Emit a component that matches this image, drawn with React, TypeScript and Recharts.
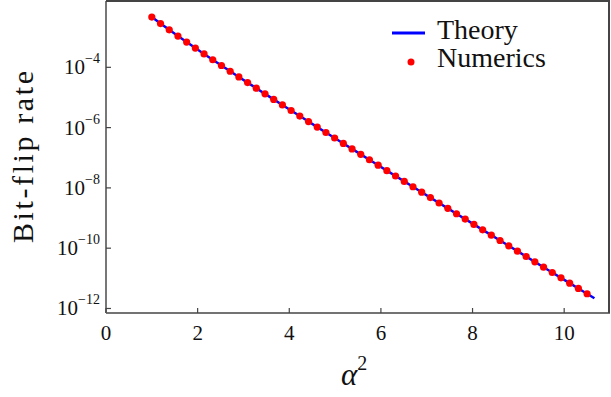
import { ComposedChart, Line, Scatter, XAxis, YAxis } from 'recharts';

// alpha^2 sample points of the numerics
const alpha2 = [
  1.0, 1.19, 1.38, 1.57, 1.76, 1.95, 2.14, 2.33, 2.52, 2.71,
  2.9, 3.09, 3.28, 3.47, 3.66, 3.85, 4.04, 4.23, 4.42, 4.61,
  4.8, 4.99, 5.18, 5.37, 5.56, 5.75, 5.94, 6.13, 6.32, 6.51,
  6.7, 6.89, 7.08, 7.27, 7.46, 7.65, 7.84, 8.03, 8.22, 8.41,
  8.6, 8.79, 8.98, 9.17, 9.36, 9.55, 9.74, 9.93, 10.12, 10.31, 10.5,
];

const numericRate = [
  4.63e-3, 2.82e-3, 1.75e-3, 1.09e-3, 6.87e-4, 4.36e-4, 2.78e-4, 1.78e-4, 1.15e-4, 7.41e-5,
  4.8e-5, 3.11e-5, 2.03e-5, 1.32e-5, 8.63e-6, 5.64e-6, 3.69e-6, 2.42e-6, 1.59e-6, 1.04e-6,
  6.87e-7, 4.52e-7, 2.98e-7, 1.97e-7, 1.3e-7, 8.57e-8, 5.66e-8, 3.74e-8, 2.48e-8, 1.64e-8,
  1.09e-8, 7.19e-9, 4.77e-9, 3.16e-9, 2.1e-9, 1.39e-9, 9.24e-10, 6.14e-10, 4.07e-10, 2.71e-10,
  1.8e-10, 1.2e-10, 7.96e-11, 5.3e-11, 3.52e-11, 2.34e-11, 1.56e-11, 1.04e-11, 6.92e-12, 4.61e-12, 3.08e-12,
];

// theory curve runs a little past the last numeric point
const theoryAlpha2 = [...alpha2, 10.66];
const theoryRate = [...numericRate, 2.18e-12];

const xTicks = [0, 2, 4, 6, 8, 10];
const xDomain = [0, 11];
const yTicks = [1e-12, 1e-10, 1e-8, 1e-6, 1e-4];
const yDomain = [7.08e-13, 1.585e-2];

const numericData = alpha2.map((a, i) => ({ a2: a, rate: numericRate[i] }));
const theoryData = theoryAlpha2.map((a, i) => ({ a2: a, rate: theoryRate[i] }));

const FONT = '"Liberation Serif", "DejaVu Serif", serif';
const AXIS = '#444';

function XTick(props: any) {
  const { x, y, payload } = props;
  return (
    <g>
      <line x1={x} x2={x} y1={y} y2={y - 5} stroke={AXIS} strokeWidth={1.2} />
      <text x={x} y={y + 27} textAnchor="middle" fontSize={21} fill="#111" style={{ fontFamily: FONT }}>
        {payload.value}
      </text>
    </g>
  );
}

function YTick(props: any) {
  const { x, y, payload } = props;
  const exp = Math.round(Math.log10(payload.value));
  return (
    <g>
      <line x1={x} x2={x + 5} y1={y} y2={y} stroke={AXIS} strokeWidth={1.2} />
      <text x={x - 6} y={y + 7} textAnchor="end" fill="#111" style={{ fontFamily: FONT }}>
        <tspan fontSize={21}>10</tspan>
        <tspan fontSize={14} dy={-11}>{'\u2212' + Math.abs(exp)}</tspan>
      </text>
    </g>
  );
}

function LegendBox() {
  return (
    <svg width={230} height={70} style={{ position: 'absolute', top: 10, left: 380 }}>
      <line x1={12} x2={45} y1={23} y2={23} stroke="#0000ff" strokeWidth={3} />
      <text x={57} y={29} fontSize={28} fill="#111" style={{ fontFamily: FONT }}>Theory</text>
      <circle cx={31} cy={52} r={3.5} fill="#ff0000" />
      <text x={57} y={57} fontSize={28} fill="#111" style={{ fontFamily: FONT }}>Numerics</text>
    </svg>
  );
}

export default function App() {
  return (
    <div
      style={{
        position: 'fixed',
        left: 0,
        top: 0,
        width: 611,
        height: 397,
        overflow: 'hidden',
        background: '#fff',
      }}
    >
      <ComposedChart width={611} height={397} margin={{ top: 1, right: 1, left: 0, bottom: 0 }}>
        <XAxis
          dataKey="a2"
          type="number"
          domain={xDomain}
          ticks={xTicks}
          axisLine={{ stroke: AXIS, strokeWidth: 1.5 }}
          tickLine={false}
          tickSize={0}
          tickMargin={0}
          tick={<XTick />}
          height={84}
          allowDataOverflow
          label={{
            content: () => (
              <text x={341} y={385} fill="#111" style={{ fontFamily: FONT }}>
                <tspan fontSize={31} fontStyle="italic">α</tspan>
                <tspan fontSize={20} dy={-15}>2</tspan>
              </text>
            ),
          }}
        />
        <YAxis
          type="number"
          scale="log"
          domain={yDomain}
          ticks={yTicks}
          axisLine={{ stroke: '#777', strokeWidth: 2 }}
          tickLine={false}
          tickSize={0}
          tickMargin={0}
          tick={<YTick />}
          width={106}
          allowDataOverflow
          label={{
            content: () => (
              <text
                x={33}
                y={157}
                transform="rotate(-90 33 157)"
                textAnchor="middle"
                fontSize={30}
                textLength={172}
                lengthAdjust="spacing"
                fill="#111"
                style={{ fontFamily: FONT }}
              >
                Bit-flip rate
              </text>
            ),
          }}
        />
        <Line
          data={theoryData}
          dataKey="rate"
          stroke="#0000ff"
          strokeWidth={2.5}
          dot={false}
          isAnimationActive={false}
        />
        <Scatter
          data={numericData}
          dataKey="rate"
          fill="#ff0000"
          isAnimationActive={false}
          shape={(p: any) => <circle cx={p.cx} cy={p.cy} r={3.6} fill="#ff0000" />}
        />
      </ComposedChart>
      {/* top and right edges of the plot frame */}
      <div
        style={{
          position: 'absolute',
          left: 106,
          top: 0,
          width: 504,
          height: 313,
          boxSizing: 'border-box',
          borderTop: `2px solid ${AXIS}`,
          borderRight: `2px solid ${AXIS}`,
          pointerEvents: 'none',
          zIndex: 5,
        }}
      />
      <LegendBox />
    </div>
  );
}
